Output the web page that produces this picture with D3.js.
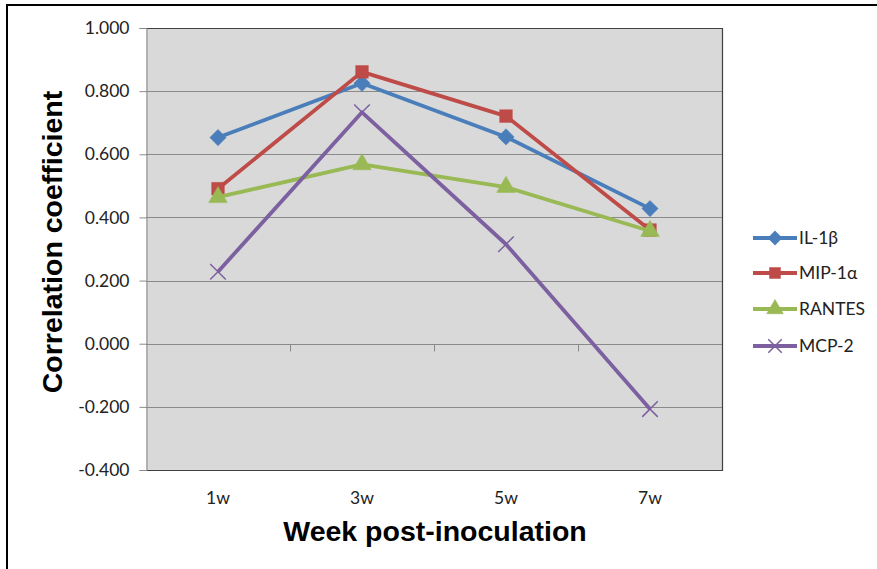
<!DOCTYPE html>
<html><head><meta charset="utf-8">
<script src="https://cdn.jsdelivr.net/npm/d3@7"></script>
<style>
html,body{margin:0;padding:0;background:#fff;}
svg{display:block;}
</style></head>
<body>
<svg id="chart" width="877" height="569"></svg>
<script>
const categories = ["1w", "3w", "5w", "7w"];
const seriesNames = ["IL-1β", "MIP-1α", "RANTES", "MCP-2"];
const il1b   = [0.653, 0.825, 0.655, 0.428];
const mip1a  = [0.491, 0.861, 0.721, 0.360];
const rantes = [0.464, 0.568, 0.496, 0.357];
const mcp2   = [0.228, 0.733, 0.315, -0.207];
const yTicks = [-0.4, -0.2, 0, 0.2, 0.4, 0.6, 0.8, 1.0];

const colors = ["#4a7ebb", "#be4b48", "#98b954", "#7d60a0"];
const symbols = [d3.symbolDiamond2, d3.symbolSquare, d3.symbolTriangle, d3.symbolX];
const seriesValues = [il1b, mip1a, rantes, mcp2];

const svg = d3.select("#chart");
const plot = {left: 146, top: 28, right: 722, bottom: 470};
const fmt = d => d3.format(".3f")(d).replace("\u2212", "-");

// outer frame
svg.append("rect").attr("x", 7).attr("y", 5).attr("width", 900).attr("height", 600)
  .attr("fill", "none").attr("stroke", "#000").attr("stroke-width", 2);

const x = d3.scaleBand().domain(categories).range([plot.left, plot.right]);
const y = d3.scaleLinear().domain([-0.4, 1.0]).range([plot.bottom, plot.top]);

// plot background
svg.append("rect").attr("x", plot.left).attr("y", plot.top)
  .attr("width", plot.right - plot.left).attr("height", plot.bottom - plot.top)
  .attr("fill", "#d9d9d9");

// gridlines
svg.append("g").selectAll("line").data(yTicks.filter(t => t > -0.4 && t < 1.0)).join("line")
  .attr("x1", plot.left).attr("x2", plot.right)
  .attr("y1", d => Math.round(y(d)) + 0.5).attr("y2", d => Math.round(y(d)) + 0.5)
  .attr("stroke", "#8a8a8a").attr("stroke-width", 1);

// plot border (top, right, bottom dark)
svg.append("path")
  .attr("d", `M${plot.left},${plot.top + 0.5}H${plot.right + 0.5}V${plot.bottom + 0.5}H${plot.left}`)
  .attr("fill", "none").attr("stroke", "#404040").attr("stroke-width", 1.2);

// y axis
const yAxis = d3.axisLeft(y).tickValues(yTicks).tickFormat(fmt).tickSize(7).tickPadding(10);
const gy = svg.append("g").attr("transform", `translate(${plot.left + 0.5},0)`).call(yAxis);
gy.select(".domain").attr("stroke", "#8a8a8a");
gy.selectAll(".tick line").attr("stroke", "#8a8a8a");
gy.selectAll(".tick text").attr("font-family", "Lato, 'Open Sans', sans-serif")
  .attr("font-size", 17.5).attr("fill", "#222");

// x axis at zero: category boundary ticks
const gx = svg.append("g").attr("transform", `translate(0,${Math.round(y(0)) + 0.5})`);
gx.selectAll("line.b").data(categories.slice(1)).join("line").attr("class", "b")
  .attr("x1", d => x(d) + 0.5).attr("x2", d => x(d) + 0.5)
  .attr("y1", 0).attr("y2", 7).attr("stroke", "#8a8a8a");

// x labels at bottom
svg.append("g").selectAll("text").data(categories).join("text")
  .attr("x", d => x(d) + x.bandwidth() / 2).attr("y", plot.bottom + 34)
  .attr("text-anchor", "middle")
  .attr("font-family", "Lato, 'Open Sans', sans-serif").attr("font-size", 17.5).attr("fill", "#222")
  .text(d => d);

// series
const line = d3.line().x((d, i) => x(categories[i]) + x.bandwidth() / 2).y(d => y(d));
seriesValues.forEach((vals, s) => {
  const g = svg.append("g");
  g.append("path").datum(vals).attr("d", line)
    .attr("fill", "none").attr("stroke", colors[s]).attr("stroke-width", 3.8)
    .attr("stroke-linejoin", "round");
  const sym = d3.symbol().type(symbols[s]).size([170, 160, 150, 160][s]);
  g.selectAll("path.m").data(vals).join("path").attr("class", "m")
    .attr("transform", (d, i) => `translate(${x(categories[i]) + x.bandwidth() / 2},${y(d)})`)
    .attr("d", sym)
    .attr("fill", s === 3 ? "none" : colors[s])
    .attr("stroke", colors[s]).attr("stroke-width", s === 3 ? 1.5 : 0.5);
});

// legend
const legY = [238, 273, 309, 346];
const leg = svg.append("g");
seriesNames.forEach((name, s) => {
  const g = leg.append("g").attr("transform", `translate(0,${legY[s]})`);
  g.append("line").attr("x1", 753).attr("x2", 797).attr("y1", 0).attr("y2", 0)
    .attr("stroke", colors[s]).attr("stroke-width", 3.8);
  g.append("path").attr("transform", "translate(775,0)")
    .attr("d", d3.symbol().type(symbols[s]).size([130, 120, 120, 120][s]))
    .attr("fill", s === 3 ? "none" : colors[s]).attr("stroke", colors[s])
    .attr("stroke-width", s === 3 ? 1.5 : 0.5);
  g.append("text").attr("x", 799).attr("y", 6)
    .attr("font-family", "Lato, 'Open Sans', sans-serif").attr("font-size", 17.5).attr("fill", "#222")
    .text(name);
});

// axis titles
svg.append("text").attr("x", 435).attr("y", 541).attr("text-anchor", "middle")
  .attr("font-family", "'Liberation Sans', Arial, sans-serif").attr("font-weight", "bold")
  .attr("font-size", 28.5).attr("fill", "#000").text("Week post-inoculation");
svg.append("text").attr("transform", "translate(62,242) rotate(-90)").attr("text-anchor", "middle")
  .attr("font-family", "'Liberation Sans', Arial, sans-serif").attr("font-weight", "bold")
  .attr("font-size", 28.5).attr("fill", "#000").text("Correlation coefficient");
</script>
</body></html>
